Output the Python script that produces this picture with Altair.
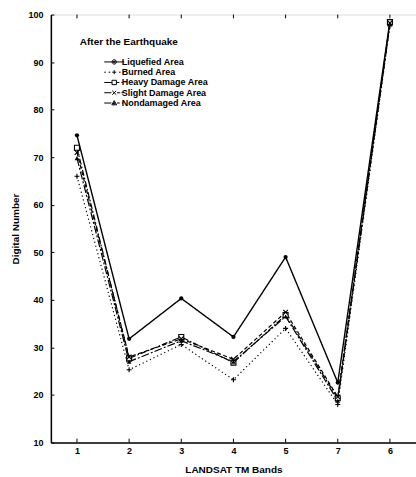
import altair as alt
import pandas as pd

bands = ["1", "2", "3", "4", "5", "7", "6"]
series = ["Liquefied Area", "Burned Area", "Heavy Damage Area", "Slight Damage Area", "Nondamaged Area"]
liquefied = [74.6, 31.8, 40.3, 32.2, 49.0, 22.6, 98.6]
burned = [66.0, 25.3, 30.6, 23.2, 34.0, 18.0, 97.6]
heavy = [72.0, 27.7, 32.2, 26.8, 36.8, 19.3, 98.4]
slight = [71.0, 28.0, 31.8, 27.5, 37.4, 19.6, 98.2]
nondamaged = [69.8, 27.0, 31.4, 27.0, 36.5, 18.8, 98.0]
y_ticks = [10, 20, 30, 40, 50, 60, 70, 80, 90, 100]

values = [liquefied, burned, heavy, slight, nondamaged]
rows = []
for s, vals in zip(series, values):
    for b, v in zip(bands, vals):
        rows.append({"band": b, "series": s, "value": v})
df = pd.DataFrame(rows)
bands_df = pd.DataFrame({"band": bands})

FONT = "Liberation Sans"

x_scale = alt.Scale(type="point", padding=0.5, domain=bands)
x_enc = alt.X("band:N", sort=bands, scale=x_scale,
              axis=alt.Axis(title="LANDSAT TM Bands", labelAngle=0, ticks=False,
                            labelFont=FONT, labelFontSize=9, labelFontWeight="bold",
                            labelColor="black", labelPadding=4,
                            titleFont=FONT, titleFontSize=10, titleFontWeight="bold",
                            titleColor="black", titlePadding=9,
                            domainColor="black", domainWidth=1.5))
y_scale = alt.Scale(domain=[10, 100], nice=False, zero=False)
y_enc = alt.Y("value:Q", scale=y_scale,
              axis=alt.Axis(title="Digital Number", values=y_ticks, grid=False,
                            tickSize={"expr": "-3"}, tickColor="black",
                            labelFont=FONT, labelFontSize=9, labelFontWeight="bold",
                            labelColor="black", labelPadding=11,
                            titleFont=FONT, titleFontSize=10, titleFontWeight="bold",
                            titleColor="black", titlePadding=7,
                            domainColor="black", domainWidth=1.5))

# per series: dash, line width, marker shape, marker size, filled
styles = {
    "Liquefied Area": ([1, 0], 1.4, "circle", 18, True),
    "Burned Area": ([1.2, 2.8], 1.2, "M-1,0L1,0M0,-1L0,1", 25, False),
    "Heavy Damage Area": ([6, 2, 1.5, 2], 1.2, "square", 25, False),
    "Slight Damage Area": ([4, 2.5], 1.2, "M-1,-1L1,1M-1,1L1,-1", 22, False),
    "Nondamaged Area": ([8, 2, 2, 2], 1.2, "triangle-up", 22, True),
}

layers = []
for i, name in enumerate(series):
    dash, lw, shape, size, filled = styles[name]
    base = alt.Chart(df).transform_filter(alt.datum.series == name)
    layers.append(base.mark_line(color="black", strokeDash=dash, strokeWidth=lw).encode(
        x=x_enc if i == 0 else alt.X("band:N", sort=bands, scale=x_scale),
        y=y_enc if i == 0 else alt.Y("value:Q", scale=y_scale)))
for name in series:
    dash, lw, shape, size, filled = styles[name]
    base = alt.Chart(df).transform_filter(alt.datum.series == name)
    layers.append(base.mark_point(
        shape=shape, size=size, filled=filled, color="black", strokeWidth=1.1,
        fill="black" if filled else "white" if shape == "square" else "transparent",
        opacity=1,
    ).encode(x=alt.X("band:N", sort=bands, scale=x_scale),
             y=alt.Y("value:Q", scale=y_scale)))

# legend symbols: line style + marker drawn as stroke-only paths
legend_paths = [
    "M-2.5,0L2.5,0M-0.55,0A0.55,0.55,0,1,0,0.55,0A0.55,0.55,0,1,0,-0.55,0M-0.25,0A0.25,0.25,0,1,0,0.25,0A0.25,0.25,0,1,0,-0.25,0",
    "M-2.5,0L-2.1,0M-1.4,0L-1.0,0M-0.5,0L0.5,0M0,-0.5L0,0.5M1.2,0L1.6,0M2.1,0L2.5,0",
    "M-2.5,0L-0.6,0M-0.55,-0.55L0.55,-0.55L0.55,0.55L-0.55,0.55ZM0.6,0L1.3,0M1.8,0L2.1,0",
    "M-2.5,0L-0.7,0M-0.5,-0.5L0.5,0.5M-0.5,0.5L0.5,-0.5M0.7,0L1.5,0M1.8,0L2.5,0",
    "M-2.5,0L-0.7,0M0,-0.6L0.6,0.45L-0.6,0.45ZM0,-0.2L0.25,0.25L-0.25,0.25ZM0.7,0L1.4,0M1.9,0L2.2,0",
]

legend_layer = alt.Chart(df).mark_point(
    stroke="black", strokeWidth=1, filled=False, opacity=0
).encode(
    x=alt.X("band:N", sort=bands, scale=x_scale), y=alt.Y("value:Q", scale=y_scale),
    shape=alt.Shape("series:N", scale=alt.Scale(domain=series, range=legend_paths),
                    legend=alt.Legend(
                        title="After the Earthquake", orient="none", legendX=29, legendY=23,
                        titleFont=FONT, titleFontSize=10, titleFontWeight="bold", titleColor="black",
                        titlePadding=10, labelFont=FONT, labelFontSize=9, labelFontWeight="bold",
                        labelColor="black", symbolSize=64, symbolStrokeColor="black",
                        symbolFillColor="transparent",
                        symbolStrokeWidth=1, symbolOffset=30, labelOffset=3, rowPadding=0.3,
                        symbolOpacity=1)),
)

bottom_ticks = alt.Chart(bands_df).mark_rule(color="black", strokeWidth=1).encode(
    x=alt.X("band:N", sort=bands, scale=x_scale),
    y=alt.YDatum(10, scale=y_scale), y2=alt.Y2Datum(10.8))
top_ticks = alt.Chart(bands_df).mark_rule(color="black", strokeWidth=1).encode(
    x=alt.X("band:N", sort=bands, scale=x_scale),
    y=alt.YDatum(100, scale=y_scale), y2=alt.Y2Datum(99.2))

chart = alt.layer(*layers, legend_layer, bottom_ticks, top_ticks).properties(
    width=366, height=429,
    autosize=alt.AutoSizeParams(type="none"),
    padding={"left": 51, "top": 14, "right": 0, "bottom": 34},
).configure_view(stroke="black", strokeWidth=1.2).configure(background="white", font=FONT)

chart.save("out.html", embed_options={"renderer": "svg", "actions": False})
